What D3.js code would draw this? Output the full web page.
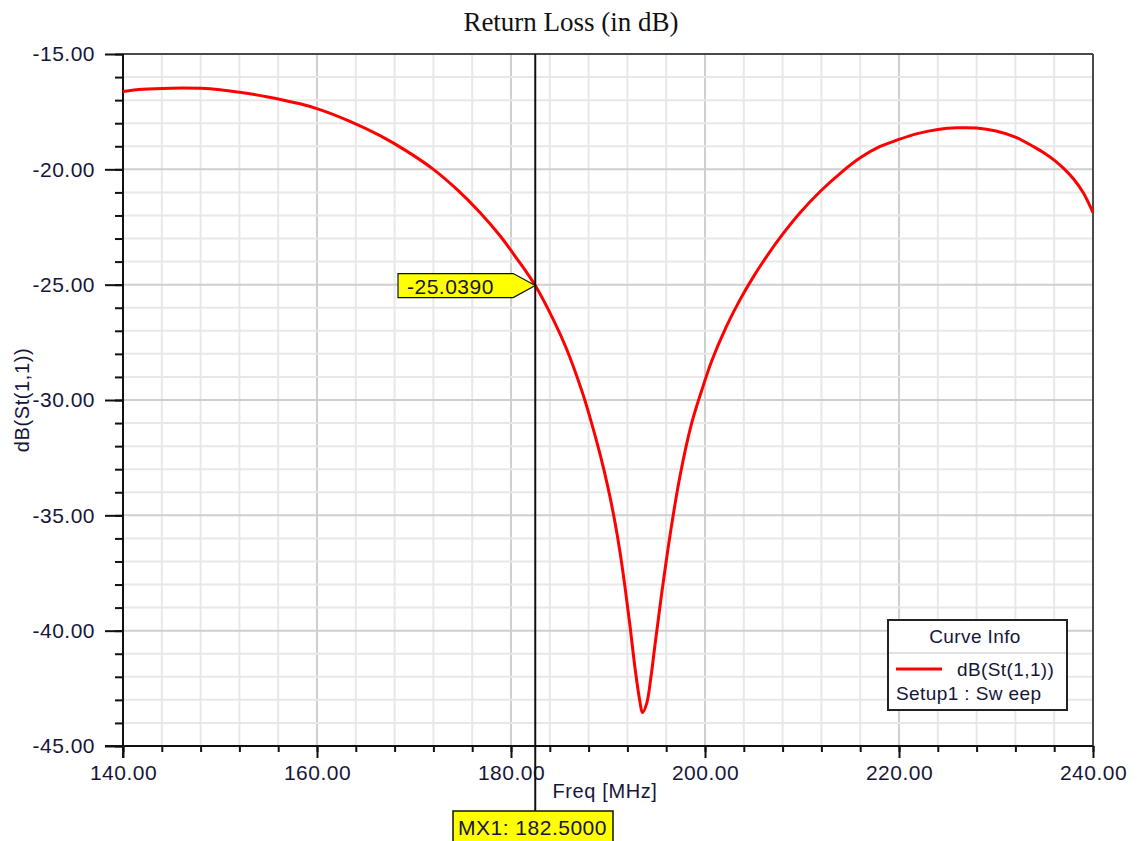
<!DOCTYPE html>
<html>
<head>
<meta charset="utf-8">
<script src="https://cdn.jsdelivr.net/npm/d3@7"></script>
<style>
  html, body { margin: 0; padding: 0; background: #ffffff; }
  svg { display: block; }
  .lbl { font-family: "Liberation Sans", Arial, sans-serif; fill: #16163a; }
</style>
</head>
<body>
<svg id="chart" width="1137" height="841"></svg>
<script>
// Swept S11 response, frequency in MHz and return loss in dB
const freqMHz = [140, 142, 145, 148, 150, 152, 154.8, 158.25, 160.3, 163.4, 166.5, 169.25, 172, 174.4, 176.8, 178.87, 180.6, 182.5,
  184.4, 185.74, 187.3, 188.14, 189.18, 190.03, 190.72, 191.24, 191.75, 192.27, 192.78, 193.3, 193.55,
  193.99, 194.43, 194.85, 195.5, 196.4, 197.4, 198.6, 199.65, 200.7, 202.2, 203.6, 205.0, 206.4, 207.7, 209.8, 211.9,
  214, 216, 218, 220, 222, 224, 226, 228, 230, 232, 234, 235, 236, 237, 238, 239, 240];
const returnLossDb = [-16.63, -16.53, -16.48, -16.49, -16.55, -16.66, -16.85, -17.16, -17.41, -17.92, -18.54, -19.21, -20.0, -20.86, -21.87, -22.88, -23.87, -25.039,
  -26.55, -27.8, -29.6, -30.75, -32.35, -33.85, -35.3, -36.6, -38.1, -39.8, -41.6, -43.1, -43.55,
  -43.15, -42.0, -40.6, -38.5, -35.85, -33.35, -31.05, -29.6, -28.3, -26.82, -25.66, -24.65, -23.75, -22.98, -21.88, -20.95,
  -20.15, -19.5, -19.02, -18.7, -18.44, -18.27, -18.2, -18.21, -18.34, -18.6, -19.05, -19.3, -19.6, -19.97, -20.42, -21.02, -21.88];

const xMajorTicks = [140, 160, 180, 200, 220, 240];
const yMajorTicks = [-45, -40, -35, -30, -25, -20, -15];
const xMinorTicks = d3.range(140, 240.1, 4);
const yMinorTicks = d3.range(-45, -14.9, 1);

const markerFreq = 182.5;
const markerDb = -25.039;
const markerName = "MX1";
const curveName = "dB(St(1,1))";
const setupName = "Setup1 : Sw eep";

const svg = d3.select("#chart");
const plotLeft = 123, plotRight = 1093, plotTop = 54, plotBottom = 746;

const x = d3.scaleLinear().domain([140, 240]).range([plotLeft, plotRight]);
const y = d3.scaleLinear().domain([-45, -15]).range([plotBottom, plotTop]);

// grid: minor every 4 MHz / 1 dB, major every 20 MHz / 5 dB
const grid = svg.append("g");
grid.selectAll("line.vx").data(xMinorTicks).join("line")
  .attr("x1", d => x(d)).attr("x2", d => x(d)).attr("y1", plotTop).attr("y2", plotBottom)
  .attr("stroke", d => (d - 140) % 20 === 0 ? "#cfcfcf" : "#e8e8e8").attr("stroke-width", 2);
grid.selectAll("line.hy").data(yMinorTicks).join("line")
  .attr("y1", d => y(d)).attr("y2", d => y(d)).attr("x1", plotLeft).attr("x2", plotRight)
  .attr("stroke", d => d % 5 === 0 ? "#cfcfcf" : "#e8e8e8").attr("stroke-width", 2);

// frame top and right
svg.append("line").attr("x1", plotLeft).attr("x2", plotRight).attr("y1", plotTop).attr("y2", plotTop)
  .attr("stroke", "#4a4a4a").attr("stroke-width", 2);
svg.append("line").attr("x1", plotRight).attr("x2", plotRight).attr("y1", plotTop).attr("y2", plotBottom)
  .attr("stroke", "#4a4a4a").attr("stroke-width", 2);

// axes
const fmt = d => d.toFixed(2);
const yMinor = svg.append("g").attr("transform", `translate(${plotLeft},0)`)
  .call(d3.axisLeft(y).tickValues(yMinorTicks).tickSize(8).tickFormat(""));
const yMajor = svg.append("g").attr("transform", `translate(${plotLeft},0)`)
  .call(d3.axisLeft(y).tickValues(yMajorTicks).tickSize(18).tickPadding(10).tickFormat(fmt));
const xMinor = svg.append("g").attr("transform", `translate(0,${plotBottom})`)
  .call(d3.axisBottom(x).tickValues(xMinorTicks).tickSize(6).tickFormat(""));
const xMajor = svg.append("g").attr("transform", `translate(0,${plotBottom})`)
  .call(d3.axisBottom(x).tickValues(xMajorTicks).tickSize(12).tickPadding(2).tickFormat(fmt));

[yMinor, yMajor, xMinor, xMajor].forEach(g => {
  g.select(".domain").remove();
  g.selectAll(".tick line").attr("stroke", "#111").attr("stroke-width", 2);
  g.selectAll(".tick text").attr("class", "lbl").style("font-size", "21px").style("letter-spacing", "0.5px");
});
xMajor.selectAll(".tick text").attr("dy", "0.95em");

svg.append("line").attr("x1", plotLeft).attr("x2", plotLeft).attr("y1", plotTop).attr("y2", plotBottom + 12)
  .attr("stroke", "#111").attr("stroke-width", 2);
svg.append("line").attr("x1", plotLeft - 18).attr("x2", plotRight).attr("y1", plotBottom).attr("y2", plotBottom)
  .attr("stroke", "#111").attr("stroke-width", 2);

// curve
const line = d3.line().x((d, i) => x(freqMHz[i])).y(d => y(d)).curve(d3.curveCatmullRom.alpha(0.5));
svg.append("path").datum(returnLossDb).attr("d", line)
  .attr("fill", "none").attr("stroke", "#ff0000").attr("stroke-width", 3).attr("stroke-linejoin", "round");

// title and axis labels
svg.append("text").attr("x", 571).attr("y", 31).attr("text-anchor", "middle")
  .style("font-family", "'Liberation Serif', 'Times New Roman', serif").style("font-size", "27px").attr("fill", "#111")
  .text("Return Loss (in dB)");
svg.append("text").attr("class", "lbl").attr("transform", `translate(29,400) rotate(-90)`).attr("text-anchor", "middle")
  .style("font-size", "20px").style("letter-spacing", "0.6px").text("dB(St(1,1))");
svg.append("text").attr("class", "lbl").attr("x", 605).attr("y", 798).attr("text-anchor", "middle")
  .style("font-size", "20px").style("letter-spacing", "0.6px").text("Freq [MHz]");

// marker line and readouts
const mx = x(markerFreq), my = y(markerDb);
svg.append("line").attr("x1", mx).attr("x2", mx).attr("y1", plotTop).attr("y2", 811)
  .attr("stroke", "#111").attr("stroke-width", 2);

svg.append("rect").attr("x", 453).attr("y", 811).attr("width", 160).attr("height", 32)
  .attr("fill", "#ffff00").attr("stroke", "#111").attr("stroke-width", 1.5);
svg.append("text").attr("class", "lbl").attr("x", 458).attr("y", 835)
  .style("font-size", "21px").style("letter-spacing", "0.5px").text(`${markerName}: ${markerFreq.toFixed(4)}`);

const tag = d3.path();
tag.moveTo(398, my - 12); tag.lineTo(mx - 22, my - 12); tag.lineTo(mx, my);
tag.lineTo(mx - 22, my + 12); tag.lineTo(398, my + 12); tag.closePath();
svg.append("path").attr("d", tag.toString()).attr("fill", "#ffff00").attr("stroke", "#111").attr("stroke-width", 1.2);
svg.append("text").attr("class", "lbl").attr("x", 407).attr("y", my + 8)
  .style("font-size", "21px").style("letter-spacing", "0.5px").text(markerDb.toFixed(4));

// legend
const lg = svg.append("g");
lg.append("rect").attr("x", 888).attr("y", 620).attr("width", 179).attr("height", 90)
  .attr("fill", "#ffffff").attr("stroke", "#222").attr("stroke-width", 2);
lg.append("line").attr("x1", 889).attr("x2", 1066).attr("y1", 653).attr("y2", 653)
  .attr("stroke", "#d8d8d8").attr("stroke-width", 1.5);
lg.append("text").attr("class", "lbl").attr("x", 975).attr("y", 643).attr("text-anchor", "middle")
  .style("font-size", "19px").style("letter-spacing", "0.4px").text("Curve Info");
lg.append("line").attr("x1", 896).attr("x2", 942).attr("y1", 669).attr("y2", 669)
  .attr("stroke", "#ff0000").attr("stroke-width", 3);
lg.append("text").attr("class", "lbl").attr("x", 957).attr("y", 676)
  .style("font-size", "19px").style("letter-spacing", "0.4px").text(curveName);
lg.append("text").attr("class", "lbl").attr("x", 896).attr("y", 700)
  .style("font-size", "19px").style("letter-spacing", "0.4px").text(setupName);
</script>
</body>
</html>
